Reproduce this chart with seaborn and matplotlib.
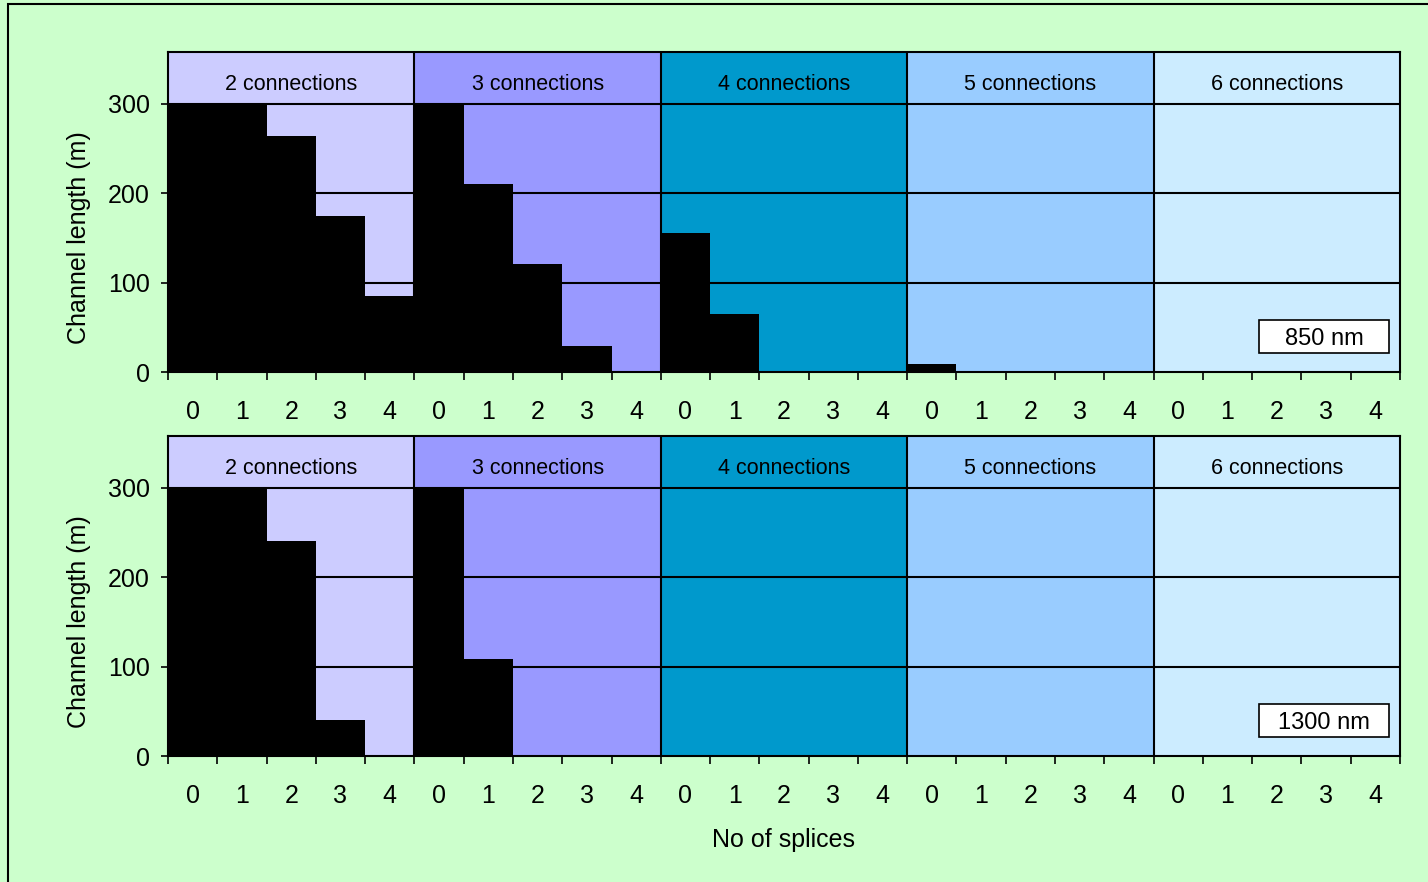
import numpy as np
import pandas as pd
import matplotlib
matplotlib.use('Agg')
import matplotlib.pyplot as plt
from matplotlib.patches import Rectangle
import seaborn as sns

plt.rcParams['font.family'] = ['Liberation Sans', 'DejaVu Sans']

# data
groups = ['2 connections', '3 connections', '4 connections', '5 connections', '6 connections']
splices = [0, 1, 2, 3, 4]
group_colors = ['#CCCCFF', '#9999FF', '#0099CC', '#99CCFF', '#CCECFF']

# channel length (m) for 0..4 splices, one row per group
len_850 = [[300, 300, 264, 175, 85],
           [300, 210, 121, 29, 0],
           [155, 65, 0, 0, 0],
           [9, 0, 0, 0, 0],
           [0, 0, 0, 0, 0]]
len_1300 = [[300, 300, 240, 40, 0],
            [300, 109, 0, 0, 0],
            [0, 0, 0, 0, 0],
            [0, 0, 0, 0, 0],
            [0, 0, 0, 0, 0]]
wavelengths = ['850 nm', '1300 nm']
y_ticks = [0, 100, 200, 300]
y_max = 358
header_y = 322


def make_frame(values):
    rows = []
    for g, name in enumerate(groups):
        for s in splices:
            rows.append({'pos': g * len(splices) + s, 'group': name,
                         'splices': s, 'length': values[g][s]})
    return pd.DataFrame(rows)


fig = plt.figure(figsize=(14.28, 8.82), dpi=100, facecolor='#CCFFCC')
fig.patches.append(Rectangle((8 / 1428, -0.05), 1.1, 1 - 4 / 882 + 0.05,
                             transform=fig.transFigure, fill=False,
                             ec='black', lw=1.5))

ax_top = fig.add_axes([168 / 1428, 1 - 372 / 882, 1232 / 1428, 320 / 882])
ax_bot = fig.add_axes([168 / 1428, 1 - 756 / 882, 1232 / 1428, 320 / 882])

n = len(splices)
total = len(groups) * n

for ax, values, wl in zip([ax_top, ax_bot], [len_850, len_1300], wavelengths):
    df = make_frame(values)

    # coloured column for every group, header band included
    for g, c in enumerate(group_colors):
        ax.axvspan(g * n - 0.5, g * n + n - 0.5, color=c, lw=0, zorder=0)
        ax.text(g * n + (n - 1) / 2, header_y, groups[g], ha='center',
                va='center', fontsize=15.5, zorder=5)

    sns.barplot(data=df, x='pos', y='length', color='black', width=1,
                saturation=1, linewidth=0, errorbar=None, ax=ax, zorder=2)

    for yv in y_ticks[1:]:
        ax.axhline(yv, color='black', lw=1.5, zorder=1.5)
    for g in range(1, len(groups)):
        ax.axvline(g * n - 0.5, color='black', lw=1.5, zorder=3)

    ax.set_xlim(-0.5, total - 0.5)
    ax.set_ylim(0, y_max)

    ax.set_xticks(np.arange(-0.5, total, 1))
    ax.set_xticklabels([])
    ax.set_xticks(np.arange(total), minor=True)
    ax.set_xticklabels([str(s) for s in splices] * len(groups), minor=True)
    ax.tick_params(axis='x', which='major', length=6, width=1.2, direction='out')
    ax.tick_params(axis='x', which='minor', length=0, pad=20, labelsize=18)

    ax.set_yticks(y_ticks)
    ax.tick_params(axis='y', length=5, width=1.2, pad=8, labelsize=18)

    for sp in ax.spines.values():
        sp.set_color('black')
        sp.set_linewidth(1.5)
        sp.set_zorder(6)

    ax.set_ylabel('Channel length (m)', fontsize=18)
    ax.yaxis.set_label_coords(-0.0625, 150 / y_max)
    ax.set_xlabel('')

    # wavelength label box
    ax.add_patch(Rectangle((0.8856, 0.06), 0.1055, 0.102, transform=ax.transAxes,
                           fc='white', ec='black', lw=1.2, zorder=7))
    ax.text(0.9383, 0.104, wl, transform=ax.transAxes, ha='center',
            va='center', fontsize=17, zorder=8)

ax_bot.set_xlabel('No of splices', fontsize=18)
ax_bot.xaxis.set_label_coords(0.5, -0.225)

fig.savefig('out.png', dpi=100, facecolor=fig.get_facecolor())
